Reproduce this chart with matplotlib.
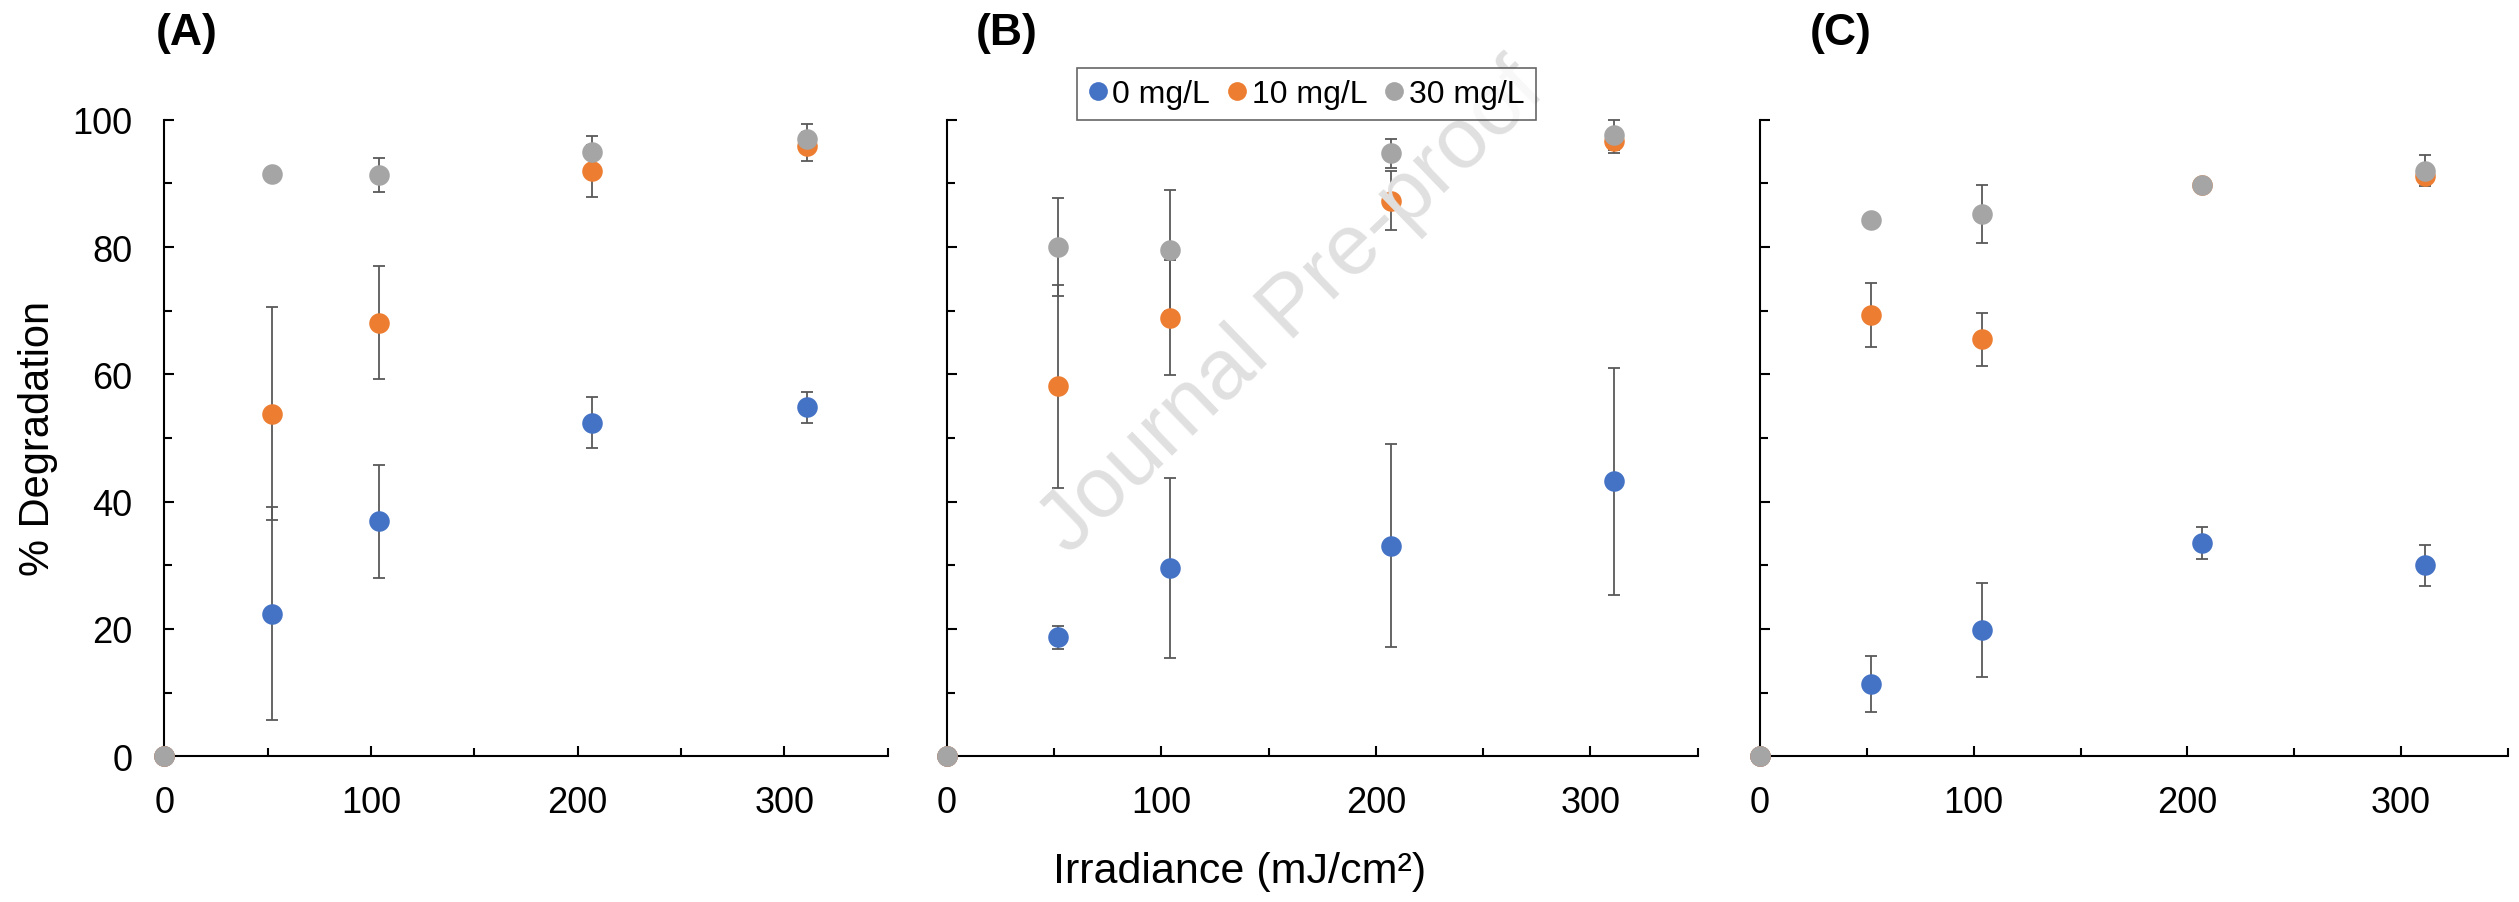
import matplotlib
matplotlib.use("Agg")
import matplotlib.pyplot as plt
from matplotlib.lines import Line2D
from matplotlib.ticker import MultipleLocator

plt.rcParams['font.family'] = ['Liberation Sans', 'DejaVu Sans']

# ---------------- data ----------------
irradiance = [0, 52, 104, 207, 311]
series_labels = ["0 mg/L", "10 mg/L", "30 mg/L"]
series_colors = ["#4472C4", "#ED7D31", "#A5A5A5"]
panel_labels = ["(A)", "(B)", "(C)"]

# Panel A
a_0mg = [0, 22.4, 36.9, 52.4, 54.8]
a_0mg_err = [0, 16.7, 8.9, 4.0, 2.4]
a_10mg = [0, 53.8, 68.1, 91.9, 95.8]
a_10mg_err = [0, 16.7, 8.9, 4.1, 2.3]
a_30mg = [0, 91.4, 91.3, 94.9, 97.0]
a_30mg_err = [0, 0.8, 2.7, 2.5, 2.3]

# Panel B
b_0mg = [0, 18.7, 29.6, 33.1, 43.2]
b_0mg_err = [0, 1.8, 14.1, 15.9, 17.8]
b_10mg = [0, 58.1, 68.9, 87.3, 96.7]
b_10mg_err = [0, 15.9, 9.0, 4.6, 1.9]
b_30mg = [0, 80.0, 79.5, 94.7, 97.6]
b_30mg_err = [0, 7.7, 9.5, 2.3, 2.4]

# Panel C
c_0mg = [0, 11.4, 19.8, 33.5, 30.0]
c_0mg_err = [0, 4.4, 7.35, 2.45, 3.25]
c_10mg = [0, 69.3, 65.5, 89.7, 91.2]
c_10mg_err = [0, 5.05, 4.15, 0.5, 1.0]
c_30mg = [0, 84.3, 85.2, 89.8, 92.0]
c_30mg_err = [0, 0.5, 4.5, 0.5, 2.4]

panels = [
    [(a_0mg, a_0mg_err), (a_10mg, a_10mg_err), (a_30mg, a_30mg_err)],
    [(b_0mg, b_0mg_err), (b_10mg, b_10mg_err), (b_30mg, b_30mg_err)],
    [(c_0mg, c_0mg_err), (c_10mg, c_10mg_err), (c_30mg, c_30mg_err)],
]

# ---------------- layout ----------------
W, H = 2519, 903
fig = plt.figure(figsize=(W / 100, H / 100), dpi=100)

# axes boxes in pixels: (left, right, top, bottom)
boxes = [(164.3, 887.5, 120.7, 757.3),
         (946.7, 1697.7, 120.7, 757.3),
         (1760.0, 2508.0, 120.7, 757.3)]

err_color = "#595959"
axes = []
for i, (l, r, t, b) in enumerate(boxes):
    ax = fig.add_axes([l / W, 1 - b / H, (r - l) / W, (b - t) / H])
    axes.append(ax)
    for (vals, errs), col in zip(panels[i], series_colors):
        ax.errorbar(irradiance, vals, yerr=errs, fmt='none', ecolor=err_color,
                    elinewidth=1.3, capsize=4.2, capthick=1.3, zorder=2,
                    clip_on=False)
    for (vals, errs), col in zip(panels[i], series_colors):
        ax.plot(irradiance, vals, 'o', color=col, markersize=14.8,
                markeredgewidth=0, zorder=3, clip_on=False)
    ax.set_xlim(0, 350)
    ax.set_ylim(0, 100)
    ax.spines['top'].set_visible(False)
    ax.spines['right'].set_visible(False)
    for s in ('left', 'bottom'):
        ax.spines[s].set_linewidth(1.5)
        ax.spines[s].set_color('black')
    ax.xaxis.set_major_locator(MultipleLocator(100))
    ax.xaxis.set_minor_locator(MultipleLocator(50))
    ax.yaxis.set_major_locator(MultipleLocator(20))
    ax.yaxis.set_minor_locator(MultipleLocator(10))
    ax.tick_params(axis='both', which='major', direction='in', length=7.5,
                   width=1.5, labelsize=26)
    ax.tick_params(axis='both', which='minor', direction='in', length=5.8,
                   width=1.5)
    ax.tick_params(axis='x', which='major', pad=21)
    ax.tick_params(axis='y', which='major', pad=23)
    ax.set_xticks([0, 100, 200, 300])
    ax.set_xticks([50, 150, 250, 350], minor=True)
    if i > 0:
        ax.tick_params(axis='y', which='both', labelleft=False)
    ax.set_facecolor('none')

    # panel label
    fig.text((boxes[i][0] + [22, 60, 81][i]) / W, 1 - 33 / H, panel_labels[i],
             fontsize=32, fontweight='bold', ha='center', va='center')

fig.text(38 / W, 1 - 438 / H, "% Degradation", fontsize=30, rotation=90,
         ha='center', va='center')
fig.text(1240 / W, 1 - 872 / H, "Irradiance (mJ/cm²)", fontsize=31,
         ha='center', va='center')

# watermark
fig.text(1293 / W, 1 - 309 / H, "Journal Pre-proof", fontsize=62,
         color="#e0e0e0", rotation=44, ha='center', va='center', zorder=0.5)

# legend
handles = [Line2D([], [], linestyle='none', marker='o', markersize=13.5,
                  markeredgewidth=0, color=c) for c in series_colors]
leg = fig.legend(handles, series_labels, loc='center', ncol=3,
                 bbox_to_anchor=(1306.4 / W, 1 - 95.3 / H), fontsize=23,
                 frameon=True, fancybox=False, handlelength=0.6,
                 handletextpad=0.15, columnspacing=0.55, borderpad=0.35,
                 borderaxespad=0)
leg.get_frame().set_edgecolor("#404040")
leg.get_frame().set_linewidth(1.2)

fig.savefig("out.png", dpi=100)
